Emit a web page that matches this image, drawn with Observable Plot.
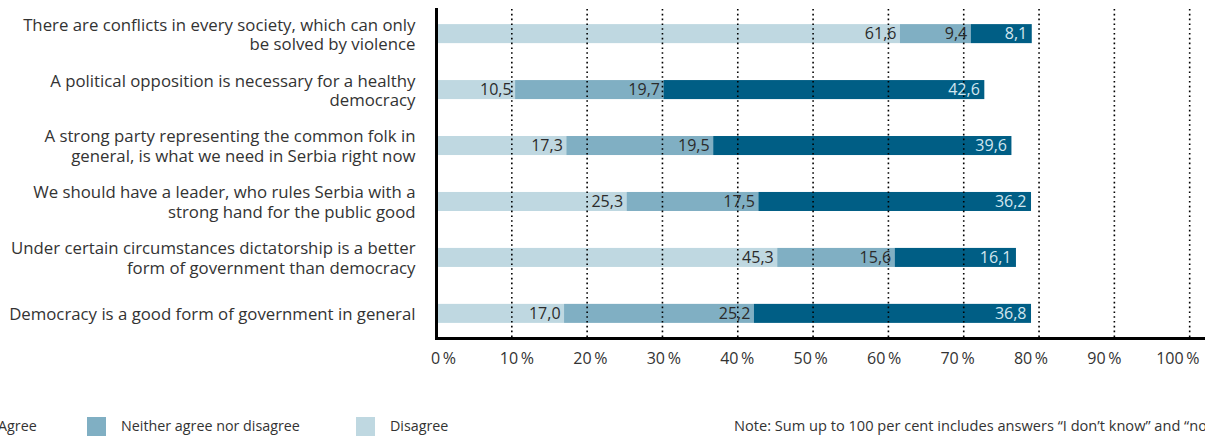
<!DOCTYPE html>
<html>
<head>
<meta charset="utf-8">
<script src="https://cdn.jsdelivr.net/npm/d3@7"></script>
<script src="https://cdn.jsdelivr.net/npm/@observablehq/plot@0.6"></script>
<style>
  html, body { margin: 0; padding: 0; background: #fff; }
  body { width: 1205px; height: 436px; overflow: hidden; position: relative; font-family: "Open Sans", "Noto Sans", sans-serif; color: #333; }
  #chart svg { display: block; }
  .legend { position: absolute; top: 417px; left: 0; width: 1205px; height: 19px; font-size: 14.3px; }
  .sw { position: absolute; top: 0; width: 19px; height: 19px; }
  .lt { position: absolute; top: -1px; line-height: 19px; white-space: nowrap; }
  .note { position: absolute; left: 734px; top: -1px; line-height: 19px; white-space: nowrap; font-size: 14.6px; }
</style>
</head>
<body>
<div id="chart"></div>
<div class="legend" id="legend"></div>
<script>
const questions = [
  "There are conflicts in every society, which can only\nbe solved by violence",
  "A political opposition is necessary for a healthy\ndemocracy",
  "A strong party representing the common folk in\ngeneral, is what we need in Serbia right now",
  "We should have a leader, who rules Serbia with a\nstrong hand for the public good",
  "Under certain circumstances dictatorship is a better\nform of government than democracy",
  "Democracy is a good form of government in general"
];
const seriesNames = ["Disagree", "Neither agree nor disagree", "Agree"];
const disagree = [61.6, 10.5, 17.3, 25.3, 45.3, 17.0];
const neither  = [9.4, 19.7, 19.5, 17.5, 15.6, 25.2];
const agree    = [8.1, 42.6, 39.6, 36.2, 16.1, 36.8];
const xTicks = [0, 10, 20, 30, 40, 50, 60, 70, 80, 90, 100];
const gridTicks = [10, 20, 30, 40, 50, 60, 70, 80, 90, 100];
const colors = ["#bfd8e1", "#80afc3", "#005e85"];
const noteText = "Note: Sum up to 100 per cent includes answers \u201cI don\u2019t know\u201d and \u201cno answer\u201d.";

const seriesValues = [disagree, neither, agree];
const data = [];
questions.forEach((q, i) => {
  seriesNames.forEach((s, j) => data.push({q, series: s, value: seriesValues[j][i]}));
});
const fmt = v => v.toFixed(1).replace(".", ",");

const stackOpts = {x: "value", y: "q", z: "series", order: seriesNames};
// tick labels in the reference sit on a slightly compressed spacing relative to the gridlines
const labelPos = d => 0.93 + 0.975 * d;

const chart = Plot.plot({
  width: 1205,
  height: 400,
  marginLeft: 436,
  marginRight: 0,
  marginTop: 9,
  marginBottom: 62,
  style: {fontFamily: "'Open Sans', 'Noto Sans', sans-serif", color: "#333", background: "#fff"},
  x: {domain: [0, 102.1], axis: null},
  y: {domain: questions, paddingInner: 0.66, paddingOuter: 0.27, round: false},
  color: {domain: seriesNames, range: colors},
  marks: [
    Plot.barX(data, Plot.stackX({...stackOpts, fill: "series", inset: 0})),
    Plot.ruleX(gridTicks, {x: d => d, stroke: "#000", strokeWidth: 1.6, strokeDasharray: "1.6,3.2"}),
    Plot.text(data, Plot.stackX2({...stackOpts, text: d => d.series === "Agree" ? "" : fmt(d.value), textAnchor: "end", dx: -4, fontSize: 16, fill: "#2b2b2b"})),
    Plot.text(data, Plot.stackX2({...stackOpts, text: d => d.series === "Agree" ? fmt(d.value) : "", textAnchor: "end", dx: -5, fontSize: 16, fill: "#d2e6ef"})),
    Plot.frame({anchor: "left", stroke: "#000", strokeWidth: 3}),
    Plot.frame({anchor: "bottom", stroke: "#000", strokeWidth: 3}),
    Plot.axisY({tickSize: 0, tickPadding: 21, fontSize: 16.8, lineHeight: 1.18, label: null, fill: "#333"}),
    Plot.text(xTicks, {x: labelPos, frameAnchor: "bottom", dy: 20, lineAnchor: "middle", text: d => d + "\u2009%", fontSize: 16, fill: "#333"})
  ]
});
document.getElementById("chart").appendChild(chart);

const legend = document.getElementById("legend");
const legendItems = [
  {name: "Agree", color: colors[2], sw: -36, tx: -2},
  {name: "Neither agree nor disagree", color: colors[1], sw: 87, tx: 121},
  {name: "Disagree", color: colors[0], sw: 356, tx: 390}
];
legendItems.forEach(it => {
  const s = document.createElement("div");
  s.className = "sw"; s.style.left = it.sw + "px"; s.style.background = it.color;
  legend.appendChild(s);
  const t = document.createElement("div");
  t.className = "lt"; t.style.left = it.tx + "px"; t.textContent = it.name;
  legend.appendChild(t);
});
const n = document.createElement("div");
n.className = "note"; n.textContent = noteText;
legend.appendChild(n);
</script>
</body>
</html>
